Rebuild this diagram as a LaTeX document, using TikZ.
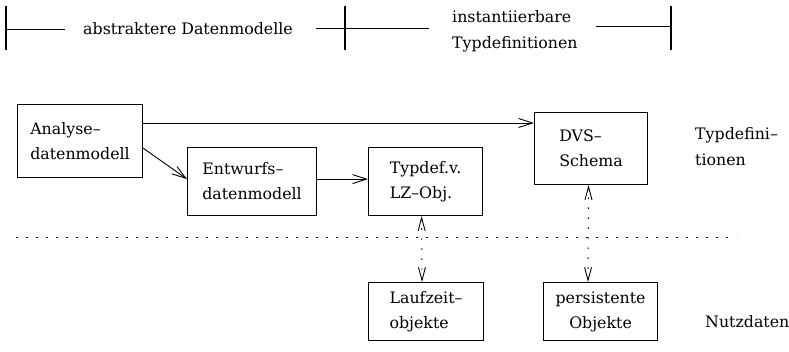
\documentclass[tikz,border=0pt]{standalone}
\usepackage{fontspec}
\setmainfont{DejaVu Serif}
\usetikzlibrary{arrows.meta,calc}
\begin{document}
\begin{tikzpicture}[x=1pt,y=-1pt,
  txt/.style={font=\fontsize{15.8}{26}\selectfont, inner sep=0pt},
  box/.style={draw, line width=1.1pt, anchor=north west, inner sep=0pt, align=left,
    font=\fontsize{15.8}{25}\selectfont},
  bar/.style={line width=1.1pt},
  arr/.style={line width=0.9pt, -{Straight Barb[length=14pt,width=9pt]}},
  darr/.style={line width=0.9pt, dash pattern=on 1.5pt off 8.5pt,
    {Straight Barb[length=13pt,width=7pt]}-{Straight Barb[length=13pt,width=7pt]}},
  sep/.style={line width=0.9pt, dash pattern=on 2pt off 8pt}]
\useasboundingbox (0,0) rectangle (789,352);

% top scale
\coordinate (b1t) at (6,6);   \coordinate (b1b) at (6,50);
\coordinate (b2t) at (345,6); \coordinate (b2b) at (345,50);
\coordinate (b3t) at (671,6); \coordinate (b3b) at (671,50);
\draw[bar] (b1t) -- (b1b);
\draw[bar] (b2t) -- (b2b);
\draw[bar] (b3t) -- (b3b);
\node[txt] (abs) at (188,29) {abstraktere Datenmodelle};
\node[txt, align=left, anchor=west] (inst) at (452,31) {instantiierbare\\Typdefinitionen};
\draw[line width=0.9pt] (b1t |- abs.center) -- (65,29);
\draw[line width=0.9pt] (316,28) -- (429,28);
\draw[line width=0.9pt] (596,26) -- (b3t |- 0,26);

% boxes
\node[box, minimum width=125pt, minimum height=73pt] (ana) at (17,104) {Analyse--\\datenmodell};
\node[box, minimum width=129pt, minimum height=68pt] (ent) at (187,147) {Entwurfs--\\datenmodell};
\node[box, minimum width=114pt, minimum height=68pt] (typ) at (368,147) {Typdef.v.\\LZ--Obj.};
\node[box, minimum width=113pt, minimum height=72pt] (dvs) at (534,112) {DVS--\\Schema};
\node[box, minimum width=115pt, minimum height=58pt] (lz) at (368,282) {Laufzeit--\\objekte};
\node[box, minimum width=114pt, minimum height=58pt, align=center] (pers) at (543,282) {persistente\\Objekte};

% side labels
\node[txt, align=left, anchor=west] (tdef) at (695,147) {Typdefini--\\tionen};
\node[txt, anchor=west] (nutz) at (705,322) {Nutzdaten};

% separator
\coordinate (s1) at (16,237);
\coordinate (s2) at (736,237);
\draw[sep] (s1) -- (s2);

% connectors
\draw[arr] ($(ana.north east)+(0,19)$) -- ($(dvs.north west)+(0,11)$);
\draw[arr] ($(ana.south east)+(0,-30)$) -- ($(ent.south west)+(0,-37)$);
\draw[arr] ($(ent.south east)+(0,-37)$) -- ($(typ.south west)+(0,-37)$);
\draw[darr] ($(typ.south)+(-4,0)$) -- ($(lz.north)+(-4,0)$);
\draw[darr] ($(dvs.south)+(-2.5,0)$) -- ($(pers.north west)+(45,0)$);
\end{tikzpicture}
\end{document}
